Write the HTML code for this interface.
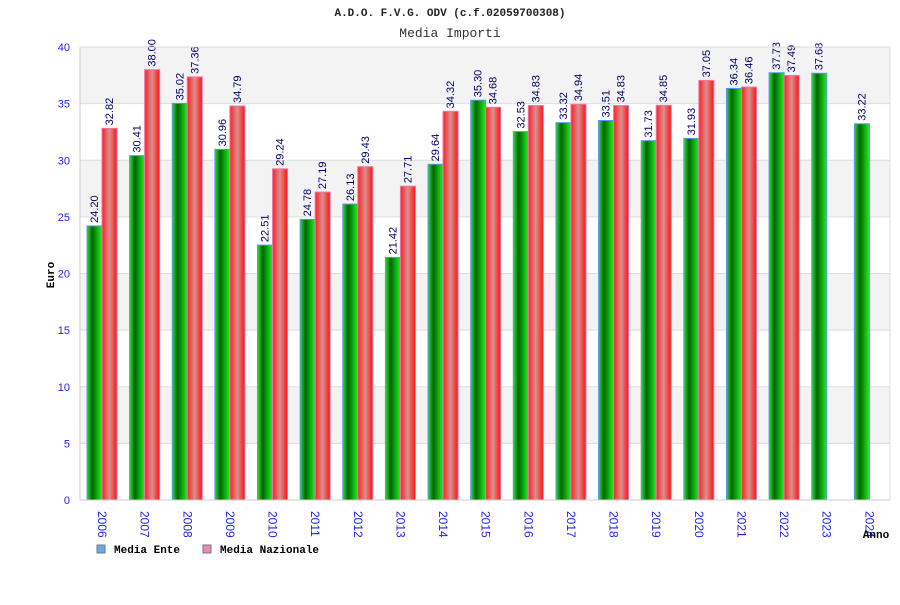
<!DOCTYPE html>
<html><head><meta charset="utf-8"><style>
body{margin:0;background:#fff}
svg text{font-family:"Liberation Sans",sans-serif}
.mono{font-family:"Liberation Mono",monospace}
</style></head><body>
<svg id="chart" width="900" height="600" viewBox="0 0 900 600" xmlns="http://www.w3.org/2000/svg">
<defs>
<linearGradient id="gG" x1="0" x2="1"><stop offset="0" stop-color="#33dd33"/><stop offset="0.35" stop-color="#006600"/><stop offset="1" stop-color="#22ee22"/></linearGradient>
<linearGradient id="gR" x1="0" x2="1"><stop offset="0" stop-color="#ff2020"/><stop offset="0.5" stop-color="#d89090"/><stop offset="1" stop-color="#ff1010"/></linearGradient>
</defs>
<text class="mono" x="450" y="16" text-anchor="middle" font-size="11" font-weight="bold" fill="#222">A.D.O. F.V.G. ODV (c.f.02059700308)</text>
<text class="mono" x="450" y="37" text-anchor="middle" font-size="13" fill="#333">Media Importi</text>
<g id="bands"></g>
<g id="bars"></g>
<g id="axes"></g>
<text class="mono" transform="translate(54,275) rotate(-90)" text-anchor="middle" font-size="11" font-weight="bold" fill="#000">Euro</text>
<text class="mono" x="876" y="538" text-anchor="middle" font-size="11" font-weight="bold" fill="#000">Anno</text>
<g><rect x="97" y="545" width="8" height="8" fill="#66aaee" stroke="#777"/><text class="mono" x="114" y="553" font-size="11" font-weight="bold">Media Ente</text></g>
<g><rect x="203" y="545" width="8" height="8" fill="#ee88bb" stroke="#777"/><text class="mono" x="220" y="553" font-size="11" font-weight="bold">Media Nazionale</text></g>
</svg>
<script>
const categories=["2006","2007","2008","2009","2010","2011","2012","2013","2014","2015","2016","2017","2018","2019","2020","2021","2022","2023","2024"];
const mediaEnte=[24.20,30.41,35.02,30.96,22.51,24.78,26.13,21.42,29.64,35.30,32.53,33.32,33.51,31.73,31.93,36.34,37.73,37.68,33.22];
const mediaNazionale=[32.82,38.00,37.36,34.79,29.24,27.19,29.43,27.71,34.32,34.68,34.83,34.94,34.83,34.85,37.05,36.46,37.49,null,null];
const yTicks=[0,5,10,15,20,25,30,35,40];
const L=80,R=890,T=47,B=500,YMAX=40;
const NS="http://www.w3.org/2000/svg";
const y=v=>B-(v/YMAX)*(B-T);
const step=(R-L)/categories.length;
const x=i=>L+i*step;
function mk(t,a,p){const e=document.createElementNS(NS,t);for(const k in a)e.setAttribute(k,a[k]);p.appendChild(e);return e;}
const bands=document.getElementById('bands'),bars=document.getElementById('bars'),axes=document.getElementById('axes');
for(let k=0;k<yTicks.length-1;k++){
 const r=mk('rect',{x:L,y:y(yTicks[k+1]),width:R-L,height:y(yTicks[k])-y(yTicks[k+1]),fill:(k%2==1)?'#f3f3f3':'#fff'},bands);
 
 
}
yTicks.forEach(v=>{
 const l=mk('line',{x1:L,x2:R,y1:y(v),y2:y(v),stroke:'#dddddd'},bands);
 
 
 const t=mk('text',{x:70,y:y(v)+4,'text-anchor':'end','font-size':11,fill:'#2222ee'},axes);
 t.textContent=v;
 
 
});
mk('line',{x1:L,x2:L,y1:T,y2:B,stroke:'#ccc'},axes);
mk('line',{x1:L,x2:R,y1:B,y2:B,stroke:'#ccc'},axes);
mk('line',{x1:R,x2:R,y1:T,y2:B,stroke:'#ddd'},axes);
mk('line',{x1:L,x2:R,y1:T,y2:T,stroke:'#ddd'},axes);
function bar(v,bx,fill,stroke,name){
 const r=mk('rect',{x:bx,y:y(v),width:15,height:B-y(v),fill:fill,stroke:stroke,'stroke-width':1},bars);
 
 
 const t=mk('text',{transform:`translate(${bx+11},${y(v)-3}) rotate(-90)`,'font-size':11,fill:'#000066'},bars);
 t.textContent=v.toFixed(2);
 
 
}
categories.forEach((c,i)=>{
 const gx=x(i)+7;
 if(mediaEnte[i]!=null)bar(mediaEnte[i],gx,'url(#gG)','#5599ee','bar-media-ente');
 if(mediaNazionale[i]!=null)bar(mediaNazionale[i],gx+15,'url(#gR)','#ee77aa','bar-media-nazionale');
 const t=mk('text',{transform:`translate(${gx+11},${511}) rotate(90)`,'font-size':12,fill:'#2222ee'},axes);
 t.textContent=c;
 
 
});
</script>
</body></html>
